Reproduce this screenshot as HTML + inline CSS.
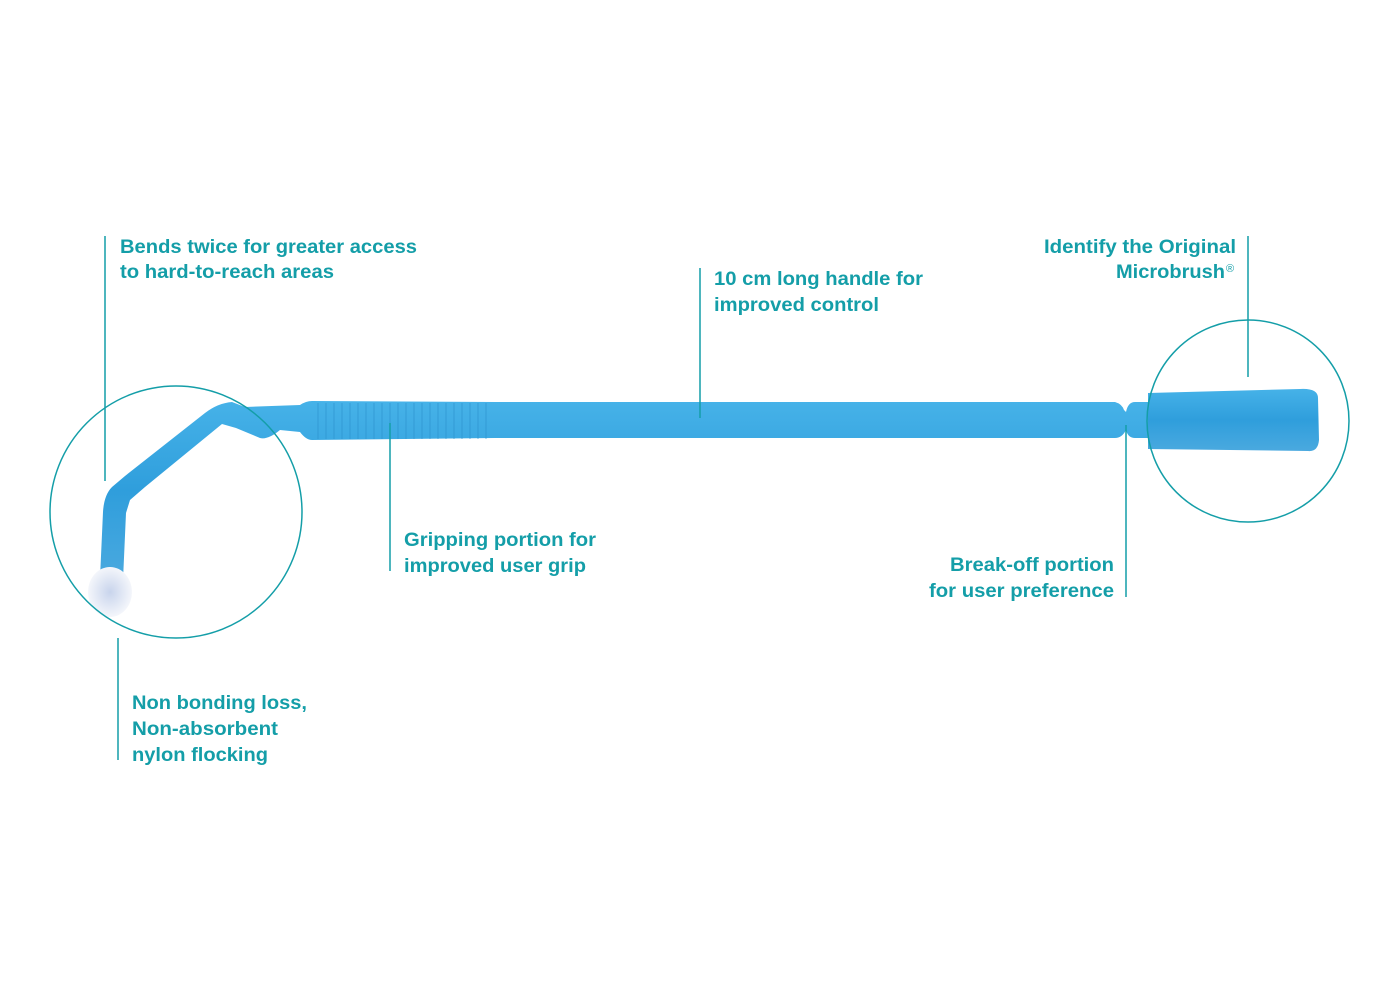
<!DOCTYPE html>
<html><head><meta charset="utf-8"><style>
html,body{margin:0;padding:0;background:#fff;}
svg{display:block}
text{font-family:"Liberation Sans",sans-serif;font-weight:bold;font-size:19px;fill:#149ea8;}
</style></head><body>
<svg width="1400" height="1000" viewBox="0 0 1400 1000" xmlns="http://www.w3.org/2000/svg">
<defs>
<linearGradient id="g" x1="0" y1="0" x2="0" y2="1">
<stop offset="0" stop-color="#46b2e8"/><stop offset="0.5" stop-color="#2f9edc"/><stop offset="1" stop-color="#4aa9df"/>
</linearGradient>
<radialGradient id="f" cx="0.5" cy="0.5" r="0.5">
<stop offset="0" stop-color="#c8d4ec"/><stop offset="1" stop-color="#f4f6fb"/>
</radialGradient>
</defs>
<g fill="url(#g)">
<path d="M100,578 L103,512 Q104,495 112,487 L125,476 L205,413 Q218,403 232,402 L245,407 L300,405 Q306,401 312,401 L495,402 L1115,402 Q1122,404 1124,410 L1126,412 Q1128,402 1135,402 L1148,402 L1148,438 L1135,438 Q1128,438 1126,430 Q1122,438 1115,438 L495,438 L312,440 Q306,440 300,432 L280,430 Q268,440 260,438 L236,428 L222,424 L145,487 L130,500 L126,513 L123,580 Z"/>
<path d="M1148,393 L1300,389 Q1318,388 1318,398 L1319,440 Q1318,452 1308,451 L1148,449 Z"/>
</g>
<g stroke="#2a8fcc" stroke-width="1" opacity="0.6">
<path d="M318,403v36M326,403v36M334,403v36M342,403v36M350,403v36M358,403v36M366,403v36M374,403v36M382,403v36M390,403v36M398,403v36M406,403v36M414,403v36M422,403v36M430,403v36M438,403v36M446,403v36M454,403v36M462,403v36M470,403v36M478,403v36M486,403v36"/>
</g>
<ellipse cx="110" cy="592" rx="22" ry="25" fill="url(#f)"/>
<circle cx="176" cy="512" r="126" fill="none" stroke="#149ea8" stroke-width="1.5"/>
<circle cx="1248" cy="421" r="101" fill="none" stroke="#149ea8" stroke-width="1.5"/>
<g stroke="#149ea8" stroke-width="1.5">
<line x1="105" y1="236" x2="105" y2="481"/>
<line x1="118" y1="638" x2="118" y2="760"/>
<line x1="390" y1="423" x2="390" y2="571"/>
<line x1="700" y1="268" x2="700" y2="418"/>
<line x1="1126" y1="425" x2="1126" y2="597"/>
<line x1="1248" y1="236" x2="1248" y2="377"/>
</g>
<text x="120" y="253" textLength="297" lengthAdjust="spacingAndGlyphs">Bends twice for greater access</text>
<text x="120" y="278" textLength="214" lengthAdjust="spacingAndGlyphs">to hard-to-reach areas</text>
<text x="714" y="285" textLength="209" lengthAdjust="spacingAndGlyphs">10 cm long handle for</text>
<text x="714" y="311" textLength="165" lengthAdjust="spacingAndGlyphs">improved control</text>
<text x="1236" y="253" text-anchor="end" textLength="192" lengthAdjust="spacingAndGlyphs">Identify the Original</text>
<text x="1225" y="278" text-anchor="end" textLength="109" lengthAdjust="spacingAndGlyphs">Microbrush</text>
<text x="1226" y="272" style="font-size:11px;font-weight:normal">®</text>
<text x="404" y="546" textLength="192" lengthAdjust="spacingAndGlyphs">Gripping portion for</text>
<text x="404" y="572" textLength="182" lengthAdjust="spacingAndGlyphs">improved user grip</text>
<text x="1114" y="571" text-anchor="end" textLength="164" lengthAdjust="spacingAndGlyphs">Break-off portion</text>
<text x="1114" y="597" text-anchor="end" textLength="185" lengthAdjust="spacingAndGlyphs">for user preference</text>
<text x="132" y="709" textLength="175" lengthAdjust="spacingAndGlyphs">Non bonding loss,</text>
<text x="132" y="735" textLength="146" lengthAdjust="spacingAndGlyphs">Non-absorbent</text>
<text x="132" y="761" textLength="136" lengthAdjust="spacingAndGlyphs">nylon flocking</text>
</svg>
</body></html>
